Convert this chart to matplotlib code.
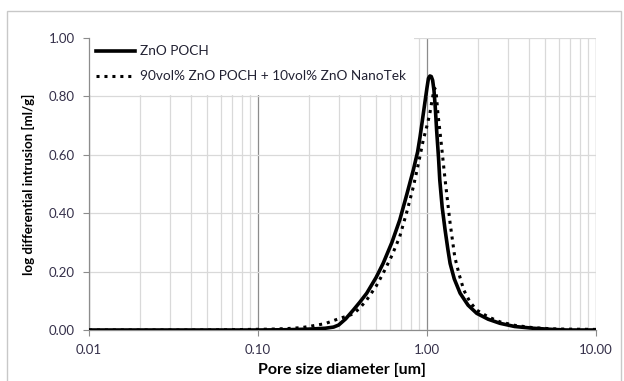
import matplotlib
matplotlib.use("Agg")
import matplotlib.pyplot as plt
from matplotlib.patches import Rectangle
from matplotlib.lines import Line2D
from matplotlib.ticker import FixedLocator, NullFormatter, LogLocator

plt.rcParams['font.family'] = ['Lato', 'DejaVu Sans']

# Series: ZnO POCH (solid)
d_poch = [0.01, 0.05, 0.1, 0.15, 0.2, 0.25, 0.28, 0.30, 0.33, 0.366, 0.40, 0.44, 0.50, 0.55, 0.62,
          0.69, 0.76, 0.83, 0.88, 0.91, 0.94, 0.97, 1.00, 1.02, 1.04, 1.06, 1.08, 1.10, 1.12,
          1.14, 1.17, 1.19, 1.23, 1.28, 1.33, 1.37, 1.45, 1.57, 1.75, 1.97, 2.3, 2.7, 3.3,
          4.24, 5.5, 6.7, 10.0]
v_poch = [0.0, 0.0, 0.0, 0.001, 0.003, 0.006, 0.010, 0.017, 0.038, 0.068, 0.095, 0.126, 0.180, 0.228, 0.300,
          0.377, 0.465, 0.548, 0.610, 0.662, 0.720, 0.776, 0.830, 0.862, 0.870, 0.868, 0.855, 0.820, 0.760,
          0.685, 0.590, 0.514, 0.420, 0.342, 0.275, 0.228, 0.175, 0.126, 0.085, 0.057, 0.037, 0.023, 0.012,
          0.006, 0.002, 0.0, 0.0]

# Series: 90vol% ZnO POCH + 10vol% ZnO NanoTek (dotted)
d_mix = [0.01, 0.05, 0.09, 0.12, 0.15, 0.18, 0.20, 0.25, 0.305, 0.33, 0.366, 0.40, 0.44, 0.50, 0.55,
         0.62, 0.69, 0.76, 0.83, 0.89, 0.95, 1.00, 1.04, 1.07, 1.09, 1.11, 1.13, 1.16, 1.19, 1.22,
         1.25, 1.28, 1.33, 1.37, 1.46, 1.55, 1.65, 1.80, 1.97, 2.3, 2.7, 3.3, 4.24, 5.5, 6.7, 10.0]
v_mix = [0.0, 0.0, 0.002, 0.003, 0.005, 0.008, 0.012, 0.022, 0.040, 0.046, 0.055, 0.075, 0.103, 0.150, 0.194,
         0.255, 0.320, 0.405, 0.490, 0.570, 0.650, 0.700, 0.742, 0.785, 0.810, 0.828, 0.820, 0.742, 0.685, 0.628,
         0.570, 0.514, 0.430, 0.366, 0.250, 0.190, 0.137, 0.095, 0.068, 0.045, 0.028, 0.016, 0.008, 0.004, 0.003, 0.002]

label_poch = "ZnO POCH"
label_mix = "90vol% ZnO POCH + 10vol% ZnO NanoTek"
x_ticks = [0.01, 0.1, 1.0, 10.0]
x_ticklabels = ["0.01", "0.10", "1.00", "10.00"]
y_ticks = [0.0, 0.2, 0.4, 0.6, 0.8, 1.0]
y_ticklabels = ["0.00", "0.20", "0.40", "0.60", "0.80", "1.00"]

W, H = 624, 381
fig = plt.figure(figsize=(W / 100, H / 100), dpi=100)
ax = fig.add_axes([89 / W, 1 - 330 / H, (596 - 89) / W, (330 - 38) / H])

# figure border
fig.patches.append(Rectangle((7 / W, -0.05), (621 - 7) / W, 1.05 - 11 / H, transform=fig.transFigure,
                             fill=False, edgecolor='#c8c8c8', linewidth=1.0))

ax.set_xscale('log')
ax.set_xlim(0.01, 10.0)
ax.set_ylim(0, 1.0)

ax.plot(d_poch, v_poch, color='black', linewidth=2.6, solid_capstyle='round', zorder=4)
ax.plot(d_mix, v_mix, color='black', linewidth=2.2, linestyle=(0, (1, 1.6)), zorder=4)

# gridlines
ax.xaxis.set_major_locator(FixedLocator(x_ticks))
ax.xaxis.set_minor_locator(LogLocator(base=10, subs=range(2, 10)))
ax.xaxis.set_minor_formatter(NullFormatter())
ax.set_xticklabels(x_ticklabels)
ax.set_yticks(y_ticks)
ax.set_yticklabels(y_ticklabels)
ax.grid(True, which='major', axis='x', color='#8c8c8c', linewidth=0.9, zorder=0)
ax.grid(True, which='minor', axis='x', color='#d9d9d9', linewidth=0.9, zorder=0)
ax.grid(True, which='major', axis='y', color='#d9d9d9', linewidth=0.9, zorder=0)
ax.set_axisbelow(True)

for s in ['top', 'right']:
    ax.spines[s].set_visible(False)
for s in ['left', 'bottom']:
    ax.spines[s].set_color('#8c8c8c')
    ax.spines[s].set_linewidth(0.9)

ax.tick_params(axis='both', which='major', direction='out', length=4, color='#8c8c8c',
               labelsize=9.5, labelcolor='#35304a', pad=6)
ax.tick_params(axis='x', which='minor', length=0)

# legend area (white box covering gridlines)
ax.add_patch(Rectangle((0, (330 - 95) / 292), (414 - 89) / 507, 1, transform=ax.transAxes,
                       facecolor='white', edgecolor='none', zorder=1))
handles = [Line2D([], [], color='black', linewidth=2.6),
           Line2D([], [], color='black', linewidth=2.2, linestyle=(0, (1, 1.6)))]
leg = ax.legend(handles, [label_poch, label_mix], loc='upper left', frameon=False,
                bbox_to_anchor=(0.0, 1.0), fontsize=9.8, handlelength=2.8, handletextpad=0.4,
                labelspacing=0.95, borderaxespad=0.15, labelcolor='#222233')

ax.set_xlabel("Pore size diameter [um]", fontsize=11.5, fontweight='bold', labelpad=5)
ax.set_ylabel("log differential intrusion [ml/g]", fontsize=9.5, fontweight='bold', labelpad=10)

fig.savefig("out.png", dpi=100)
